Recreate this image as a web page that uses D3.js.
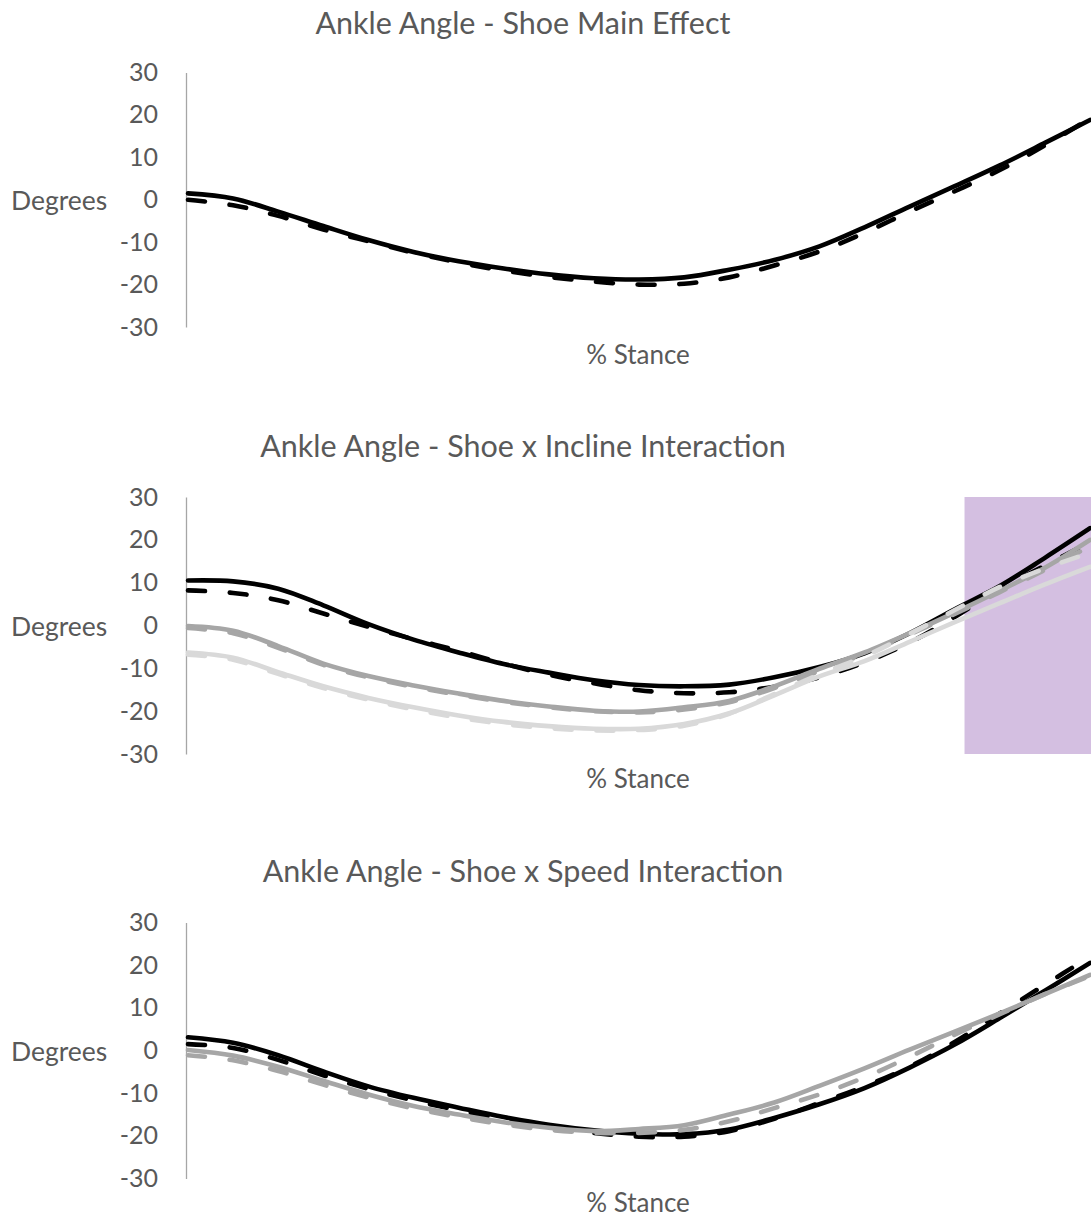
<!DOCTYPE html>
<html>
<head>
<meta charset="utf-8">
<script src="https://cdn.jsdelivr.net/npm/d3@7"></script>
<style>
  html, body { margin: 0; padding: 0; background: #fff; }
  svg { display: block; }
  text { font-family: Lato, "Open Sans", sans-serif; fill: #595959; }
</style>
</head>
<body>
<svg id="chart" width="1091" height="1217"></svg>
<script>
// % of stance phase, sampled every 5 %
const stance = [0, 5, 10, 15, 20, 25, 30, 35, 40, 45, 50, 55, 60, 65, 70, 75, 80, 85, 90, 95, 100];
const yTicks = [-30, -20, -10, 0, 10, 20, 30];

// Shoe main effect (degrees)
const mainShoeA = [1.5, 0.3, -2.8, -6.2, -9.5, -12.3, -14.5, -16.2, -17.6, -18.5, -18.8, -18.3, -16.5, -14.2, -11, -6.5, -1.6, 3.2, 8.1, 13.4, 18.8];
const mainShoeB = [0, -1.3, -3.8, -7, -9.8, -12.5, -14.8, -16.7, -18.2, -19.3, -20, -19.8, -18.3, -15.5, -12.2, -7.8, -2.8, 2, 7, 12.8, 19.2];

// Shoe x incline interaction (degrees)
const inclineShoeAUp    = [10.5, 10.3, 8.6, 4.7, 0.3, -3.3, -6.3, -9, -11, -12.8, -13.9, -14.2, -13.8, -12.1, -9.7, -6.5, -1.8, 3.8, 9.2, 15.8, 22.7];
const inclineShoeBUp    = [8.2, 7.6, 5.9, 2.8, -0.3, -3.2, -5.9, -8.9, -11.5, -13.5, -15.1, -15.8, -15.6, -14.3, -12.1, -8.6, -4, 2, 8.5, 14, 19.5];
const inclineShoeALevel = [-0.1, -1.2, -4.8, -8.9, -11.8, -14, -15.9, -17.6, -18.9, -19.9, -20.1, -19.1, -17.6, -14.2, -10.1, -6.3, -1.8, 3, 8.1, 13.5, 20];
const inclineShoeBLevel = [-0.6, -1.8, -5.2, -9.2, -12.1, -14.3, -16.2, -17.8, -19.1, -20, -20.3, -19.6, -17.9, -14.6, -10.6, -6.6, -2.1, 2.7, 7.8, 13, 18.5];
const inclineShoeADown  = [-6.3, -7.5, -10.9, -14.2, -16.9, -19.1, -21, -22.5, -23.5, -24.1, -24.1, -23, -20.5, -16.3, -11.9, -8.3, -3.8, 0.8, 5.2, 9.6, 13.7];
const inclineShoeBDown  = [-6.8, -8, -11.3, -14.6, -17.3, -19.6, -21.5, -23, -24, -24.5, -24.4, -23.4, -20.6, -16, -11.4, -7.2, -2, 3.6, 9, 13.3, 17];
// Late-stance window marked on the incline panel (% stance)
const inclineWindow = [86.2, 100];

// Shoe x speed interaction (degrees)
const speedShoeAFast = [3.1, 1.8, -1.1, -4.9, -8.4, -11.1, -13.4, -15.6, -17.4, -18.7, -19.5, -19.6, -18.5, -15.8, -12.6, -8.8, -4, 1.4, 7.6, 14, 20.5];
const speedShoeBFast = [1.5, 0.6, -2.2, -5.8, -9, -11.7, -14, -16.1, -17.8, -19.3, -20.2, -20.2, -18.9, -16, -12.3, -8.4, -3.8, 2, 8.7, 15.4, 22];
const speedShoeASlow = [0.1, -1.2, -3.8, -7.1, -10.3, -13, -15, -16.8, -18.1, -18.9, -18.4, -17.5, -15, -12.2, -8.3, -4.2, 0.2, 4.4, 8.7, 13.2, 17.7];
const speedShoeBSlow = [-1.1, -2.3, -4.8, -8, -11, -13.6, -15.6, -17.3, -18.6, -19.3, -19.3, -18.6, -16.6, -13.5, -10.3, -6.3, -1.5, 3.7, 8.5, 13.2, 17.5];

const BLACK = "#000000", GRAY = "#a6a6a6", LIGHT = "#d9d9d9";

const panels = [
  {
    title: "Ankle Angle - Shoe Main Effect",
    titleY: 22, top: 72.5, bottom: 327, xLabelY: 354,
    series: [
      { values: mainShoeA, color: BLACK, dashed: false },
      { values: mainShoeB, color: BLACK, dashed: true }
    ]
  },
  {
    title: "Ankle Angle - Shoe x Incline Interaction",
    titleY: 445, top: 497, bottom: 754, xLabelY: 778,
    window: inclineWindow,
    series: [
      { values: inclineShoeAUp, color: BLACK, dashed: false },
      { values: inclineShoeBUp, color: BLACK, dashed: true },
      { values: inclineShoeALevel, color: GRAY, dashed: false },
      { values: inclineShoeBLevel, color: GRAY, dashed: true },
      { values: inclineShoeADown, color: LIGHT, dashed: false },
      { values: inclineShoeBDown, color: LIGHT, dashed: true }
    ]
  },
  {
    title: "Ankle Angle - Shoe x Speed Interaction",
    titleY: 870, top: 922.5, bottom: 1178.5, xLabelY: 1202,
    series: [
      { values: speedShoeAFast, color: BLACK, dashed: false },
      { values: speedShoeBFast, color: BLACK, dashed: true },
      { values: speedShoeASlow, color: GRAY, dashed: false },
      { values: speedShoeBSlow, color: GRAY, dashed: true }
    ]
  }
];

const svg = d3.select("#chart");
const plotLeft = 186, plotRight = 1090;

const x = d3.scaleLinear().domain([0, 100]).range([plotLeft + 2, plotRight]);

panels.forEach(p => {
  const g = svg.append("g");
  const y = d3.scaleLinear().domain([-30, 30]).range([p.bottom, p.top]);

  // chart title
  g.append("text")
    .attr("x", 523).attr("y", p.titleY)
    .attr("text-anchor", "middle").attr("dominant-baseline", "central")
    .style("font-size", "30.5px")
    .text(p.title);

  // highlighted stance window
  if (p.window) {
    g.append("rect")
      .attr("x", x(p.window[0]) - 1)
      .attr("y", y(30))
      .attr("width", x(p.window[1]) - x(p.window[0]) + 3)
      .attr("height", y(-30) - y(30))
      .attr("fill", "#d4bfe1");
  }

  // value axis
  const axis = g.append("g")
    .attr("transform", `translate(${plotLeft},0)`)
    .call(d3.axisLeft(y).tickValues(yTicks).tickSize(0).tickPadding(28).tickFormat(d => String(d)));
  axis.select(".domain").attr("stroke", "#a6a6a6").attr("stroke-width", 1.3);
  axis.selectAll(".tick text")
    .style("font-size", "25px").style("font-family", "Lato, 'Open Sans', sans-serif")
    .attr("fill", "#595959");

  // axis titles
  g.append("text")
    .attr("x", 11).attr("y", y(0))
    .attr("dominant-baseline", "central")
    .style("font-size", "26.5px")
    .text("Degrees");
  g.append("text")
    .attr("x", (plotLeft + plotRight) / 2).attr("y", p.xLabelY)
    .attr("text-anchor", "middle").attr("dominant-baseline", "central")
    .style("font-size", "26px")
    .text("% Stance");

  const line = d3.line()
    .x((d, i) => x(stance[i]))
    .y(d => y(d))
    .curve(d3.curveCatmullRom.alpha(0.5));

  p.series.forEach(s => {
    g.append("path")
      .datum(s.values)
      .attr("d", line)
      .attr("fill", "none")
      .attr("stroke", s.color)
      .attr("stroke-width", 4.6)
      .attr("stroke-linecap", "round")
      .attr("stroke-linejoin", "round")
      .attr("stroke-dasharray", s.dashed ? "17 24.7" : null);
  });
});
</script>
</body>
</html>
